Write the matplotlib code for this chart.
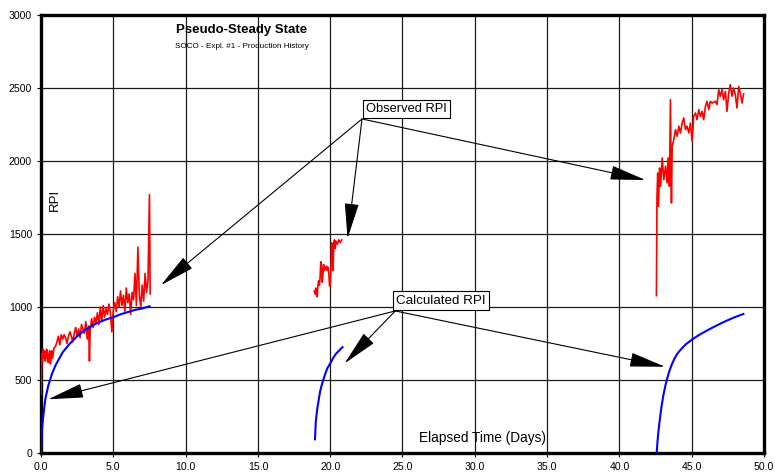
import matplotlib
matplotlib.use("Agg")
import matplotlib.pyplot as plt
from matplotlib.ticker import MultipleLocator, StrMethodFormatter

plt.rcParams['font.family'] = ['Liberation Sans', 'DejaVu Sans']

# Observed RPI, first flow period
obs1_t = [0.00, 0.03, 0.06, 0.10, 0.15, 0.20, 0.25, 0.30, 0.35, 0.40, 0.45, 0.50,
          0.55, 0.60, 0.65, 0.70, 0.75, 0.80, 0.90, 1.00, 1.10, 1.20, 1.30, 1.40,
          1.50, 1.60, 1.70, 1.80, 1.90, 2.00, 2.10, 2.20, 2.30, 2.40, 2.50, 2.60,
          2.70, 2.80, 2.90, 3.00, 3.10, 3.20, 3.30, 3.35, 3.40, 3.50, 3.60, 3.70,
          3.80, 3.90, 4.00, 4.10, 4.20, 4.30, 4.40, 4.50, 4.60, 4.70, 4.80, 4.90,
          5.00, 5.10, 5.20, 5.30, 5.40, 5.50, 5.60, 5.70, 5.80, 5.90, 6.00, 6.10,
          6.20, 6.30, 6.40, 6.50, 6.60, 6.70, 6.80, 6.90, 7.00, 7.10, 7.20, 7.30,
          7.40, 7.50, 7.55]
obs1_rpi = [400, 540, 680, 620, 710, 650, 700, 630, 680, 710, 650, 620,
            680, 700, 610, 660, 700, 650, 720, 730, 760, 800, 740, 810,
            780, 810, 790, 750, 800, 830, 800, 760, 820, 860, 800, 850,
            790, 880, 850, 820, 900, 780, 870, 630, 840, 920, 860, 930,
            890, 960, 880, 1000, 900, 1010, 930, 990, 950, 1020, 960, 830,
            980, 1030, 970, 1070, 1000, 1110, 1010, 1080, 970, 1130, 1030, 1090,
            950, 1100, 1050, 1230, 1010, 1410, 1080, 1000, 1150, 1040, 1230, 1100,
            1180, 1770, 1090]

# Observed RPI, second flow period
obs2_t = [18.90, 18.95, 19.00, 19.05, 19.10, 19.15, 19.20, 19.25, 19.30, 19.35,
          19.40, 19.45, 19.50, 19.55, 19.60, 19.65, 19.70, 19.75, 19.80, 19.85,
          19.90, 19.95, 20.00, 20.05, 20.10, 20.15, 20.20, 20.25, 20.30, 20.35,
          20.40, 20.50, 20.60, 20.70, 20.80]
obs2_rpi = [1110, 1090, 1130, 1080, 1070, 1150, 1180, 1150, 1200, 1310,
            1290, 1170, 1230, 1290, 1250, 1270, 1260, 1280, 1250, 1270,
            1240, 1150, 1140, 1250, 1440, 1380, 1250, 1440, 1460, 1400,
            1450, 1430, 1460, 1440, 1460]

# Observed RPI, third flow period
obs3_t = [42.56, 42.60, 42.65, 42.70, 42.78, 42.85, 42.96, 43.07, 43.19, 43.30,
          43.37, 43.46, 43.53, 43.60, 43.65, 43.76, 43.88, 43.99, 44.11, 44.22,
          44.34, 44.45, 44.57, 44.68, 44.80, 44.91, 45.03, 45.14, 45.26, 45.37,
          45.49, 45.60, 45.72, 45.83, 45.95, 46.06, 46.18, 46.29, 46.41, 46.64,
          46.75, 46.87, 46.98, 47.10, 47.21, 47.33, 47.44, 47.56, 47.67, 47.79,
          47.90, 48.02, 48.13, 48.25, 48.36, 48.48, 48.59]
obs3_rpi = [1078, 1760, 1918, 1690, 1952, 1827, 2021, 1872, 1964, 1850,
            2021, 1827, 2420, 1713, 2100, 2146, 2215, 2169, 2238, 2192,
            2260, 2295, 2215, 2238, 2192, 2260, 2135, 2306, 2329, 2283,
            2352, 2306, 2340, 2283, 2374, 2409, 2352, 2409, 2397, 2409,
            2386, 2489, 2443, 2489, 2420, 2477, 2340, 2466, 2523, 2443,
            2500, 2454, 2363, 2511, 2466, 2397, 2460]

# Calculated (pseudo-steady state) RPI for each period
calc1_t = [0.0, 0.05, 0.1, 0.2, 0.3, 0.5, 0.75, 1.0, 1.5, 2.0, 2.5, 3.0, 3.5,
           4.0, 4.5, 5.0, 5.5, 6.0, 6.5, 7.0, 7.5]
calc1_rpi = [0, 120, 200, 290, 370, 460, 540, 600, 690, 750, 800, 840, 870,
             895, 915, 930, 950, 965, 980, 990, 1005]

calc2_t = [18.95, 19.0, 19.1, 19.2, 19.3, 19.4, 19.52, 19.65, 19.8, 20.0,
           20.2, 20.4, 20.6, 20.85]
calc2_rpi = [94, 210, 300, 360, 420, 460, 500, 540, 580, 614, 650, 680, 700, 725]

calc3_t = [42.58, 42.62, 42.68, 42.76, 42.9, 43.04, 43.2, 43.4, 43.6, 43.8,
           44.0, 44.3, 44.6, 45.04, 45.5, 46.0, 46.5, 46.96, 47.5, 48.0, 48.57]
calc3_rpi = [0, 60, 130, 200, 310, 395, 470, 545, 600, 645,
             680, 715, 745, 778, 808, 836, 862, 885, 910, 931, 952]

fig = plt.figure(figsize=(7.75, 4.75), dpi=100)
ax = fig.add_axes([0.0529, 0.0463, 0.9329, 0.9221])

ax.set_xlim(0, 50)
ax.set_ylim(0, 3000)
ax.xaxis.set_major_locator(MultipleLocator(5))
ax.yaxis.set_major_locator(MultipleLocator(500))
ax.xaxis.set_major_formatter(StrMethodFormatter("{x:.1f}"))
ax.tick_params(labelsize=7.6, length=3, width=0.8, direction='out')
ax.grid(True, color='#1a1a1a', lw=0.9)
ax.set_axisbelow(True)
for s in ax.spines.values():
    s.set_linewidth(2.4)
    s.set_color('black')

for t, v in [(obs1_t, obs1_rpi), (obs2_t, obs2_rpi), (obs3_t, obs3_rpi)]:
    ax.plot(t, v, color='#ff0000', lw=1.2, zorder=3)
for t, v in [(calc1_t, calc1_rpi), (calc2_t, calc2_rpi), (calc3_t, calc3_rpi)]:
    ax.plot(t, v, color='#0000ff', lw=1.5, zorder=3)

ax.text(0.278, 0.966, "Pseudo-Steady State", transform=ax.transAxes,
        ha='center', va='center', fontsize=9.5, fontweight='bold')
ax.text(0.278, 0.927, "SOCO - Expl. #1 - Production History", transform=ax.transAxes,
        ha='center', va='center', fontsize=5.9)
ax.text(0.019, 0.578, "RPI", transform=ax.transAxes, rotation=90,
        ha='center', va='center', fontsize=9.5)
ax.text(0.61, 0.034, "Elapsed Time (Days)", transform=ax.transAxes,
        ha='center', va='center', fontsize=9.8)

box = dict(boxstyle='square,pad=0.25', fc='white', ec='black', lw=0.8)
arrow = dict(arrowstyle='-|>,head_length=1.6,head_width=0.32', mutation_scale=14,
             color='black', lw=0.8, shrinkA=0, shrinkB=0)

ax.text(25.3, 2357, "Observed RPI", ha='center', va='center', fontsize=9.3,
        bbox=box, zorder=5)
for tip in [(8.3, 1150), (21.2, 1470), (41.8, 1870)]:
    ax.annotate("", xy=tip, xytext=(22.2, 2288), arrowprops=arrow, zorder=4)

ax.text(27.65, 1044, "Calculated RPI", ha='center', va='center', fontsize=9.6,
        bbox=box, zorder=5)
for tip in [(0.5, 368), (21.0, 614), (43.15, 591)]:
    ax.annotate("", xy=tip, xytext=(24.5, 973), arrowprops=arrow, zorder=4)

fig.savefig("out.png", dpi=100)
